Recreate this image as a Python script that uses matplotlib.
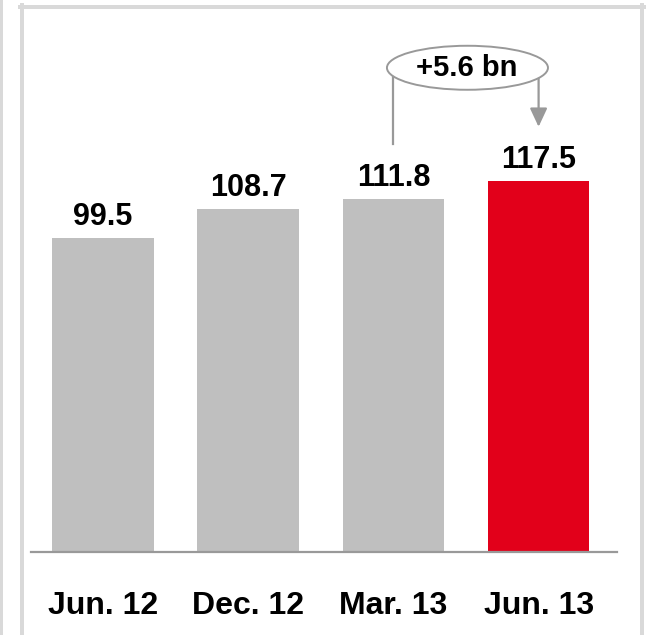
import matplotlib
matplotlib.use("Agg")
import matplotlib.pyplot as plt
from matplotlib.patches import Ellipse
from matplotlib.lines import Line2D

# data
periods = ["Jun. 12", "Dec. 12", "Mar. 13", "Jun. 13"]
values = [99.5, 108.7, 111.8, 117.5]
bar_colors = ["#bfbfbf", "#bfbfbf", "#bfbfbf", "#e2001a"]
delta_label = "+5.6 bn"

plt.rcParams["font.family"] = ["Liberation Sans", "DejaVu Sans"]
plt.rcParams["font.weight"] = "bold"

W, H = 648, 635
fig = plt.figure(figsize=(W / 100, H / 100), dpi=100)

# axes placed in pixel terms (left, bottom, width, height)
ax = fig.add_axes([31 / W, (H - 552) / H, (617 - 31) / W, (552 - 10) / H])
x = range(len(periods))
ax.bar(x, values, width=0.70, color=bar_colors, zorder=2)
ax.set_xlim(-0.496, 3.54)
ax.set_ylim(0, 171.7)

for xi, v in zip(x, values):
    ax.annotate(f"{v:.1f}", (xi, v), xytext=(0, 9.4), textcoords="offset points",
                ha="center", va="baseline", fontsize=22, fontweight="bold")

ax.set_xticks(list(x))
ax.set_xticklabels(periods, fontsize=23, fontweight="bold")
ax.tick_params(axis="x", length=0, pad=28)
ax.set_yticks([])
for s in ["top", "right", "left"]:
    ax.spines[s].set_visible(False)
ax.spines["bottom"].set_color("#999999")
ax.spines["bottom"].set_linewidth(1.6)

# change bracket between last two bars
line_c = "#999999"
ell_x, ell_y = 2.51, max(values) + 35.9
ax.plot([2, 2], [values[2] + 17.3, ell_y], color=line_c, lw=1.6, zorder=3)
ax.annotate("", xy=(3, values[3] + 17.2), xytext=(3, ell_y),
            arrowprops=dict(arrowstyle="-|>,head_length=0.75,head_width=0.35",
                            mutation_scale=15, color=line_c, lw=1.6,
                            shrinkA=0, shrinkB=0), zorder=3)
ell = Ellipse((ell_x, ell_y), 1.109, 13.94, facecolor="white",
              edgecolor=line_c, lw=1.4, zorder=4, clip_on=False)
ax.add_patch(ell)
ax.text(ell_x - 0.005, ell_y, delta_label, ha="center", va="center",
        fontsize=21, fontweight="bold", zorder=5)

# panel frame
frame_c = "#d9d9d9"
lw = 4 * 72 / 100
fig.add_artist(Line2D([22 / W, 22 / W], [0, (H - 5) / H], color=frame_c, lw=lw))
fig.add_artist(Line2D([642 / W, 642 / W], [0, (H - 5) / H], color=frame_c, lw=lw))
fig.add_artist(Line2D([20 / W, 644 / W], [(H - 7) / H, (H - 7) / H], color=frame_c, lw=lw))
fig.add_artist(Line2D([1 / W, 1 / W], [0, 1], color=frame_c, lw=3 * 72 / 100))

fig.savefig("out.png", dpi=100)
